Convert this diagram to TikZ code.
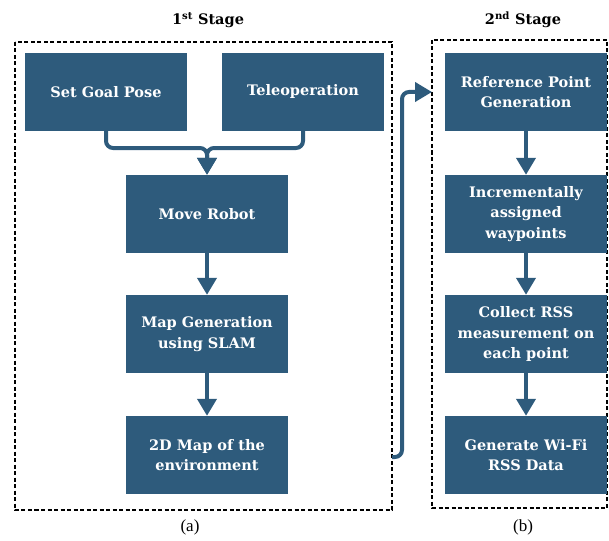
\documentclass[tikz,border=0pt]{standalone}
\usepackage{fontspec}
\setmainfont{DejaVu Serif}
\newfontfamily\capfont{Liberation Serif}
\usetikzlibrary{arrows.meta}
\definecolor{boxblue}{RGB}{46,91,124}
\begin{document}
\begin{tikzpicture}[x=1pt,y=-1pt,
  stepbox/.style={fill=boxblue,draw=none,minimum width=162pt,minimum height=78pt,
    align=center,text=white,inner sep=0pt,
    font=\bfseries\fontsize{14.5}{20.5}\selectfont},
  frame/.style={draw=black,line width=1.2pt,dash pattern=on 4pt off 2.5pt},
  conn/.style={draw=boxblue,line width=4pt,rounded corners=7pt,
    -{Triangle[length=17pt,width=19pt]}},
  title/.style={font=\bfseries\fontsize{14.5}{16}\selectfont},
  caption/.style={font=\capfont\fontsize{17}{19}\selectfont}]
\useasboundingbox (0,0) rectangle (609,540);
% stage frames
\draw[frame] (15,42) rectangle (392,510);
\draw[frame] (432,40) rectangle (607,508);
\coordinate (f1e) at (392,457);
\coordinate (f2w) at (432,92);
% titles
\node[title] (t1) at (208,20) {1\textsuperscript{st} Stage};
\node[title] (t2) at (523,20) {2\textsuperscript{nd} Stage};
% first stage
\node[stepbox] (goal) at (106,92) {Set Goal Pose};
\node[stepbox] (tele) at (303,92) {Teleoperation};
\node[stepbox] (move) at (207,214) {Move Robot};
\node[stepbox] (map) at (207,334) {Map Generation\\using SLAM};
\node[stepbox] (map2d) at (207,455) {2D Map of the\\environment};
% second stage
\node[stepbox] (ref) at (526,92) {Reference Point\\Generation};
\node[stepbox] (way) at (526,214) {Incrementally\\assigned\\waypoints};
\node[stepbox] (rss) at (526,334) {Collect RSS\\measurement on\\each point};
\node[stepbox] (wifi) at (526,455) {Generate Wi-Fi\\RSS Data};
% captions
\node[caption] (ca) at (190,527) {(a)};
\node[caption] (cb) at (523,527) {(b)};
% connectors
\coordinate (j) at (207,148);
\draw[conn] (goal.south) -- (goal.south |- j) -- (j) -- (move.north);
\draw[conn] (tele.south) -- (tele.south |- j) -- (j) -- (move.north);
\draw[conn] (move.south) -- (map.north);
\draw[conn] (map.south) -- (map2d.north);
\draw[conn] (ref.south) -- (way.north);
\draw[conn] (way.south) -- (rss.north);
\draw[conn] (rss.south) -- (wifi.north);
\draw[conn] (f1e) -- (402,457) -- (402,92) -- (f2w);
\end{tikzpicture}
\end{document}
